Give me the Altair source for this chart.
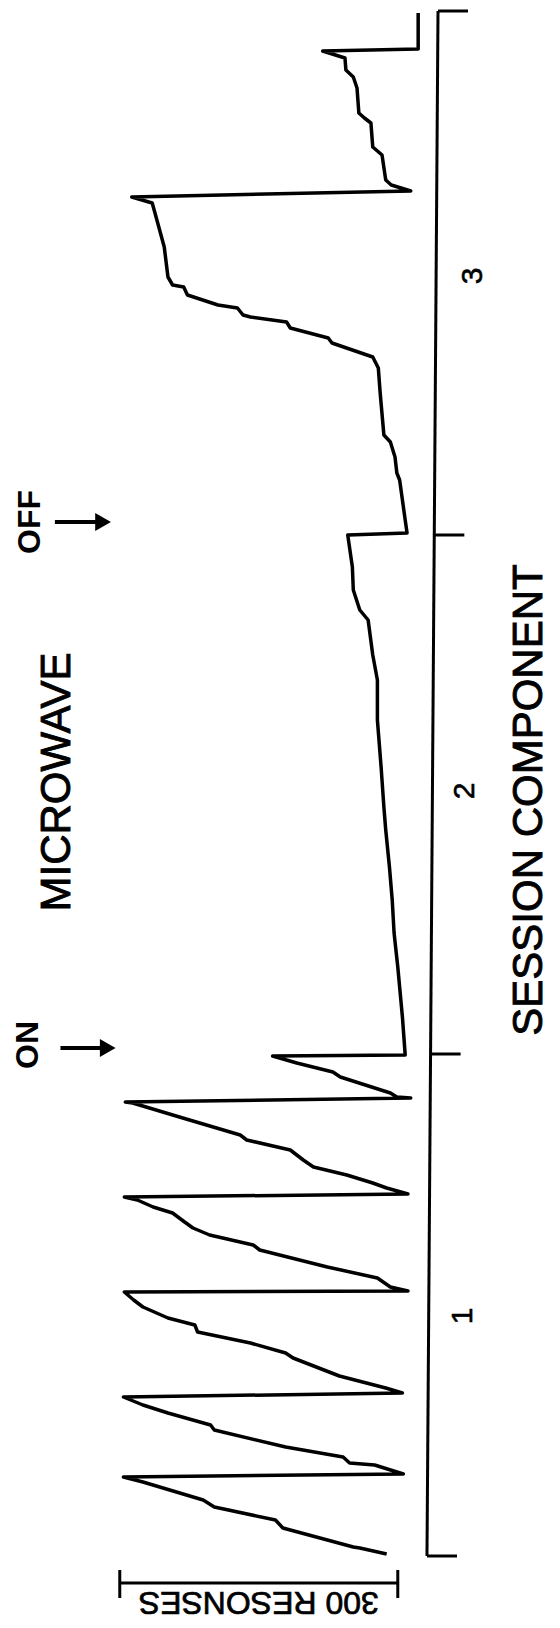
import altair as alt
import pandas as pd

# ---- cumulative record (time runs bottom -> top, responses grow leftwards) ----
time = [0.2, 0.8, 0.9, 2.8, 3.6, 4.9, 5.6, 7.4, 7.9, 8.2,
        9.1, 9.3, 9.9, 10.9, 12.6, 13.1, 14.3, 15.1, 15.9, 16.3,
        16.8, 18.0, 19.8, 20.3, 21.3, 22.4, 23.1, 23.8, 24.9, 25.6, 26.4, 26.5,
        26.9, 27.8, 28.9, 30.6, 31.1, 32.1, 32.8, 33.4, 34.3, 34.9, 35.6, 35.9, 36.2,
        36.8, 37.3, 38.1, 38.9, 39.6, 40.6, 41.6, 42.1, 43.8, 45.3, 45.4, 45.8,
        45.9, 46.3, 47.9, 48.4, 49.3, 50.0, 50.1,
        53.9, 58.9, 62.3, 65.6, 68.9, 72.6, 74.9, 78.9, 83.6, 87.6, 90.1, 93.6, 94.6, 96.6, 98.9, 102.1, 102.3,
        103.6, 107.6, 108.3, 109.9, 111.4, 112.1, 116.3, 118.8, 119.9, 121.3, 121.8, 122.8, 123.4, 123.9,
        124.1, 124.8, 125.1, 126.1, 126.9, 127.1, 127.9, 130.9, 134.3, 135.3, 135.9, 136.5,
        137.1, 137.6, 140.1, 140.9, 143.3, 143.8, 144.3, 146.8, 147.9, 148.6, 149.8, 150.5, 150.7, 154.3]

responses = [23, 52, 59, 135, 143, 209, 221, 286, 307, 5,
             36, 63, 70, 132, 209, 213, 259, 286, 307, 6,
             24, 74, 124, 132, 170, 227, 230, 259, 286, 296, 306, 0,
             19, 33, 87, 160, 167, 214, 232, 241, 254, 275, 292, 306, 0,
             23, 38, 66, 102, 113, 127, 174, 181, 243, 297, 305, -3,
             12, 19, 73, 81, 120, 146, 3,
             6, 11, 15, 17, 20, 24, 26, 29, 33, 33, 38, 43, 52, 59, 60, 65, 1,
             3, 9, 12, 14, 19, 26, 30, 32, 38, 82, 86, 127, 131, 170,
             178, 184, 205, 238, 242, 254, 259, 263, 273, 276, 298, -3,
             18, 24, 28, 38, 40, 47, 53, 55, 59, 67, 68, 92, -11, -11]

# session component boundaries (time) and labels
boundaries = [0, 50.2, 102.1, 154.5]
comp_labels = ["1", "2", "3"]
comp_label_time = [24, 76.5, 128]

# microwave on / off markers
mw_labels = ["ON", "OFF"]
mw_time = [50.8, 103.4]

# response scale bar (300 responses)
bar_start = 11
bar_len = 300

FONT = "Liberation Sans"

xs = alt.Scale(domain=[-27.0, 431.6], reverse=True, nice=False, zero=False)
ys = alt.Scale(domain=[0, 154.5], nice=False, zero=False)


def X(f):
    return alt.X(f, scale=xs, axis=None)


def Y(f):
    return alt.Y(f, scale=ys, axis=None)


curve = pd.DataFrame({"i": list(range(len(time))), "t": time, "r": responses})

line = alt.Chart(curve).mark_line(color="black", strokeWidth=3.5, strokeJoin="round").encode(
    x=X("r:Q"), y=Y("t:Q"), order="i:Q"
)

# time axis (slightly skewed in the original record) with component ticks
axis_r_bottom, axis_r_top = -20.5, -32.4
axis_df = pd.DataFrame({"r0": [axis_r_bottom], "r1": [axis_r_top],
                        "t0": [boundaries[0]], "t1": [boundaries[-1]]})
axis_line = alt.Chart(axis_df).mark_rule(color="black", strokeWidth=3).encode(
    x=X("r0:Q"), x2="r1:Q", y=Y("t0:Q"), y2="t1:Q")
tick_df = pd.DataFrame({"t": boundaries,
                        "r0": [-20.5, -24.4, -28.4, -32.4],
                        "r1": [-52.9, -56.8, -60.8, -64.8]})
ticks = alt.Chart(tick_df).mark_rule(color="black", strokeWidth=3).encode(
    x=X("r0:Q"), x2="r1:Q", y=Y("t:Q"))

# component numbers
comp_df = pd.DataFrame({"t": comp_label_time, "r": [-59, -61, -70], "label": comp_labels})
comp_text = alt.Chart(comp_df).mark_text(
    font=FONT, fontSize=30, angle=270, align="center", baseline="middle", color="black",
    stroke="black", strokeWidth=0.6
).encode(x=X("r:Q"), y=Y("t:Q"), text="label:N")

# axis title
title_df = pd.DataFrame({"t": [75.6], "r": [-131], "label": ["SESSION  COMPONENT"]})
title_text = alt.Chart(title_df).mark_text(
    font=FONT, fontSize=42, angle=270, align="center", baseline="middle", color="black",
    stroke="black", strokeWidth=0.9
).encode(x=X("r:Q"), y=Y("t:Q"), text="label:N")

# MICROWAVE label
mw_df = pd.DataFrame({"t": [77.4], "r": [378.7], "label": ["MICROWAVE"]})
mw_text = alt.Chart(mw_df).mark_text(
    font=FONT, fontSize=42, angle=270, align="center", baseline="middle", color="black",
    stroke="black", strokeWidth=0.9
).encode(x=X("r:Q"), y=Y("t:Q"), text="label:N")

# ON / OFF labels
onoff_df = pd.DataFrame({"t": [51.1, 103.4], "r": [410, 408], "label": mw_labels})
onoff_text = alt.Chart(onoff_df).mark_text(
    font=FONT, fontSize=32, fontWeight="bold", angle=270, align="center", baseline="middle",
    color="black"
).encode(x=X("r:Q"), y=Y("t:Q"), text="label:N")

# arrows
arrow_df = pd.DataFrame({"t": mw_time, "r0": [375, 381], "r1": [330, 335], "rh": [324, 329]})
shafts = alt.Chart(arrow_df).mark_rule(color="black", strokeWidth=4).encode(
    x=X("r0:Q"), x2="r1:Q", y=Y("t:Q"))
heads = alt.Chart(arrow_df).mark_point(
    shape="triangle-right", filled=True, size=330, color="black", opacity=1
).encode(x=X("rh:Q"), y=Y("t:Q"))

# scale bar
bar_df = pd.DataFrame({"r0": [bar_start], "r1": [bar_start + bar_len], "t": [-2.7]})
bar = alt.Chart(bar_df).mark_rule(color="black", strokeWidth=3).encode(
    x=X("r0:Q"), x2="r1:Q", y=Y("t:Q"))
cap_df = pd.DataFrame({"r": [bar_start, bar_start + bar_len], "ta": [-1.4, -1.4], "tb": [-4.2, -4.2]})
caps = alt.Chart(cap_df).mark_rule(color="black", strokeWidth=3).encode(
    x=X("r:Q"), y=Y("ta:Q"), y2="tb:Q")
bar_lab_df = pd.DataFrame({"r": [bar_start + bar_len / 2], "t": [-4.6], "label": ["300 RESONSES"]})
bar_lab = alt.Chart(bar_lab_df).mark_text(
    font=FONT, fontSize=32, angle=180, align="center", baseline="middle", color="black",
    stroke="black", strokeWidth=0.7
).encode(x=X("r:Q"), y=Y("t:Q"), text="label:N")

chart = alt.layer(
    line, axis_line, ticks, comp_text, title_text, mw_text, onoff_text,
    shafts, heads, bar, caps, bar_lab
).properties(
    width=425, height=1545,
    padding={"left": 0, "top": 3, "right": 119, "bottom": 64},
    autosize=alt.AutoSizeParams(type="none"),
    background="white",
).configure_view(stroke=None)

chart.save("out.html", embed_options={"renderer": "svg", "actions": False})
